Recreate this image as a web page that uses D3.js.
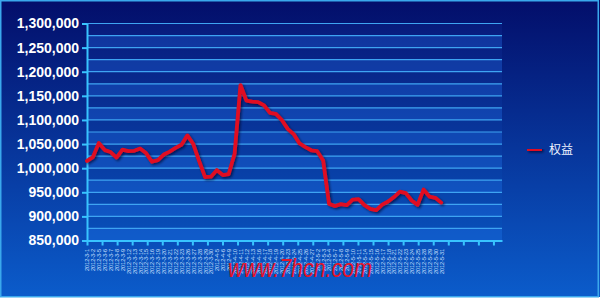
<!DOCTYPE html>
<html>
<head>
<meta charset="utf-8">
<script src="https://cdnjs.cloudflare.com/ajax/libs/d3/7.8.5/d3.min.js"></script>
<style>
  html, body { margin: 0; padding: 0; background: #ffffff; }
  svg { display: block; }
</style>
</head>
<body>
<div id="myChart"></div>
<script>
// Data
var dates = ['2012-3-1', '2012-3-2', '2012-3-5', '2012-3-6', '2012-3-7', '2012-3-8', '2012-3-9', '2012-3-12', '2012-3-13', '2012-3-14',
             '2012-3-15', '2012-3-16', '2012-3-19', '2012-3-20', '2012-3-21', '2012-3-22', '2012-3-23', '2012-3-26', '2012-3-27', '2012-3-28',
             '2012-3-29', '2012-3-30', '2012-4-5', '2012-4-6', '2012-4-9', '2012-4-10', '2012-4-11', '2012-4-12', '2012-4-13', '2012-4-16',
             '2012-4-17', '2012-4-18', '2012-4-19', '2012-4-20', '2012-4-23', '2012-4-24', '2012-4-25', '2012-4-26', '2012-4-27', '2012-5-2',
             '2012-5-3', '2012-5-4', '2012-5-7', '2012-5-8', '2012-5-9', '2012-5-10', '2012-5-11', '2012-5-14', '2012-5-15', '2012-5-16',
             '2012-5-17', '2012-5-18', '2012-5-21', '2012-5-22', '2012-5-23', '2012-5-24', '2012-5-25', '2012-5-28', '2012-5-29', '2012-5-30',
             '2012-5-31'];
var equity = [1015000, 1023000, 1052000, 1037500, 1033400, 1022000, 1038600, 1035500, 1036000, 1040700,
              1031300, 1013300, 1016800, 1028200, 1034400, 1042100, 1048500, 1068000, 1050000, 1014700,
              981500, 982400, 996000, 985700, 987800, 1030000, 1172400, 1140200, 1137800, 1137100,
              1130300, 1114700, 1112700, 1099800, 1081500, 1070700, 1051200, 1043800, 1037100, 1035100,
              1016000, 926000, 921400, 925500, 923400, 934900, 935900, 923400, 915800, 913100,
              924500, 930900, 940000, 951400, 948300, 933000, 923900, 955600, 941100, 938600,
              928600];
var yTicks = [850000, 900000, 950000, 1000000, 1050000, 1100000, 1150000, 1200000, 1250000, 1300000];
var seriesName = '权益';
var siteText = 'www.7hcn.com';

// Dimensions of the picture and of the plot area
var width = 600, height = 300;
var plot = {left: 87, right: 502, top: 23.5, bottom: 240.5};

var svg = d3.select("#myChart")
  .append("svg")
    .attr("width", width)
    .attr("height", height);

var defs = svg.append("defs");

// Background gradient, dark navy to blue
var bg = defs.append("linearGradient")
    .attr("id", "bgGrad")
    .attr("x1", 0).attr("y1", 0).attr("x2", 0).attr("y2", 1);
bg.append("stop").attr("offset", "0%").attr("stop-color", "#030e6a");
bg.append("stop").attr("offset", "100%").attr("stop-color", "#0b5ccb");

var pg = defs.append("linearGradient")
    .attr("id", "plotGrad")
    .attr("gradientUnits", "userSpaceOnUse")
    .attr("x1", 0).attr("y1", plot.top).attr("x2", 0).attr("y2", plot.bottom);
pg.append("stop").attr("offset", "0%").attr("stop-color", "#081b7c");
pg.append("stop").attr("offset", "100%").attr("stop-color", "#0850ba");

// Soft dark shadow under the red marks
var shadow = defs.append("filter")
    .attr("id", "shadow")
    .attr("filterUnits", "userSpaceOnUse")
    .attr("x", 0).attr("y", 0).attr("width", width).attr("height", height);
shadow.append("feDropShadow")
    .attr("dx", 1.5).attr("dy", 1.5).attr("stdDeviation", 1)
    .attr("flood-color", "#000022").attr("flood-opacity", 0.6);

svg.append("rect")
    .attr("x", 0).attr("y", 0)
    .attr("width", width).attr("height", 297)
    .attr("fill", "url(#bgGrad)");

svg.append("rect")
    .attr("x", 0.75).attr("y", 0.75)
    .attr("width", 597.5).attr("height", 296)
    .attr("fill", "none")
    .attr("stroke", "#3aa8ec")
    .attr("stroke-width", 1.5);

// Scales
var x = d3.scaleLinear()
  .domain([0, 70.3])
  .range([plot.left, plot.right]);

var y = d3.scaleLinear()
  .domain([850000, 1300000])
  .range([plot.bottom, plot.top]);

// Plot background with alternating bands
svg.append("rect")
    .attr("x", plot.left).attr("y", plot.top)
    .attr("width", plot.right - plot.left)
    .attr("height", plot.bottom - plot.top)
    .attr("fill", "url(#plotGrad)");

var bandStarts = d3.range(850000, 1300000, 25000);
svg.append("g")
  .selectAll("rect")
  .data(bandStarts.filter(function(d) { return d % 50000 === 0; }))
  .enter().append("rect")
    .attr("x", plot.left)
    .attr("y", function(d) { return y(d + 25000); })
    .attr("width", plot.right - plot.left)
    .attr("height", function(d) { return y(d) - y(d + 25000); })
    .attr("fill", "#2a80ff")
    .attr("opacity", 0.24);

// Gridlines every 25,000
svg.append("g")
  .selectAll("line")
  .data(d3.range(875000, 1300001, 25000))
  .enter().append("line")
    .attr("x1", plot.left).attr("x2", plot.right)
    .attr("y1", function(d) { return y(d); })
    .attr("y2", function(d) { return y(d); })
    .attr("stroke", "#3ea4f2")
    .attr("stroke-width", 1.2);

// Y axis
var yAxis = svg.append("g")
  .attr("transform", "translate(" + plot.left + ",0)")
  .call(d3.axisLeft(y)
    .tickValues(yTicks)
    .tickSize(5)
    .tickSizeOuter(0)
    .tickPadding(3)
    .tickFormat(d3.format(",")));
yAxis.selectAll("path, line")
  .attr("stroke", "#38c4ff")
  .attr("stroke-width", 2);
yAxis.selectAll("text")
  .attr("fill", "#ffffff")
  .style("font-family", "'Liberation Sans', Arial, sans-serif")
  .style("font-size", "14px")
  .style("font-weight", "bold");

// X axis: tick marks
var xAxis = svg.append("g")
  .attr("transform", "translate(0," + plot.bottom + ")")
  .call(d3.axisBottom(x)
    .tickValues(d3.range(0, 69.5, 2.55))
    .tickSize(5)
    .tickSizeOuter(0)
    .tickFormat(""));
xAxis.selectAll("path, line")
  .attr("stroke", "#38c4ff")
  .attr("stroke-width", 2);

// X axis: date labels, one per point, rotated
var xLabels = svg.append("g")
  .attr("transform", "translate(0," + plot.bottom + ")")
  .call(d3.axisBottom(x)
    .tickValues(d3.range(dates.length))
    .tickSize(0)
    .tickFormat(function(i) { return dates[i]; }));
xLabels.select(".domain").remove();
xLabels.selectAll("text")
  .attr("transform", "rotate(-90)")
  .attr("x", -8.5)
  .attr("y", 0)
  .attr("dy", "0.35em")
  .style("text-anchor", "end")
  .attr("fill", "#cfe2ff")
  .style("font-family", "'Liberation Sans', Arial, sans-serif")
  .style("font-size", "5.5px");

// Equity line
svg.append("path")
  .datum(equity)
  .attr("fill", "none")
  .attr("stroke", "#e01020")
  .attr("stroke-width", 3.8)
  .attr("stroke-linejoin", "round")
  .attr("stroke-linecap", "round")
  .attr("filter", "url(#shadow)")
  .attr("d", d3.line()
    .x(function(d, i) { return x(i); })
    .y(function(d) { return y(d); }));

// Legend
var legend = svg.append("g").attr("transform", "translate(527,149)");
legend.append("rect")
  .attr("x", 0).attr("y", -2)
  .attr("width", 15).attr("height", 4)
  .attr("fill", "#e01020")
  .attr("filter", "url(#shadow)");
legend.append("text")
  .attr("x", 22)
  .attr("y", 0)
  .attr("dy", "0.38em")
  .attr("fill", "#eef3ff")
  .style("font-family", "'Noto Sans CJK SC', sans-serif")
  .style("font-size", "12px")
  .text(seriesName);

// Site watermark
svg.append("text")
  .attr("x", 228)
  .attr("y", 277)
  .attr("textLength", 144)
  .attr("lengthAdjust", "spacingAndGlyphs")
  .attr("fill", "#e4142a")
  .style("font-family", "'Liberation Sans', Arial, sans-serif")
  .style("font-size", "26px")
  .style("font-style", "italic")
  .text(siteText);
</script>
</body>
</html>
